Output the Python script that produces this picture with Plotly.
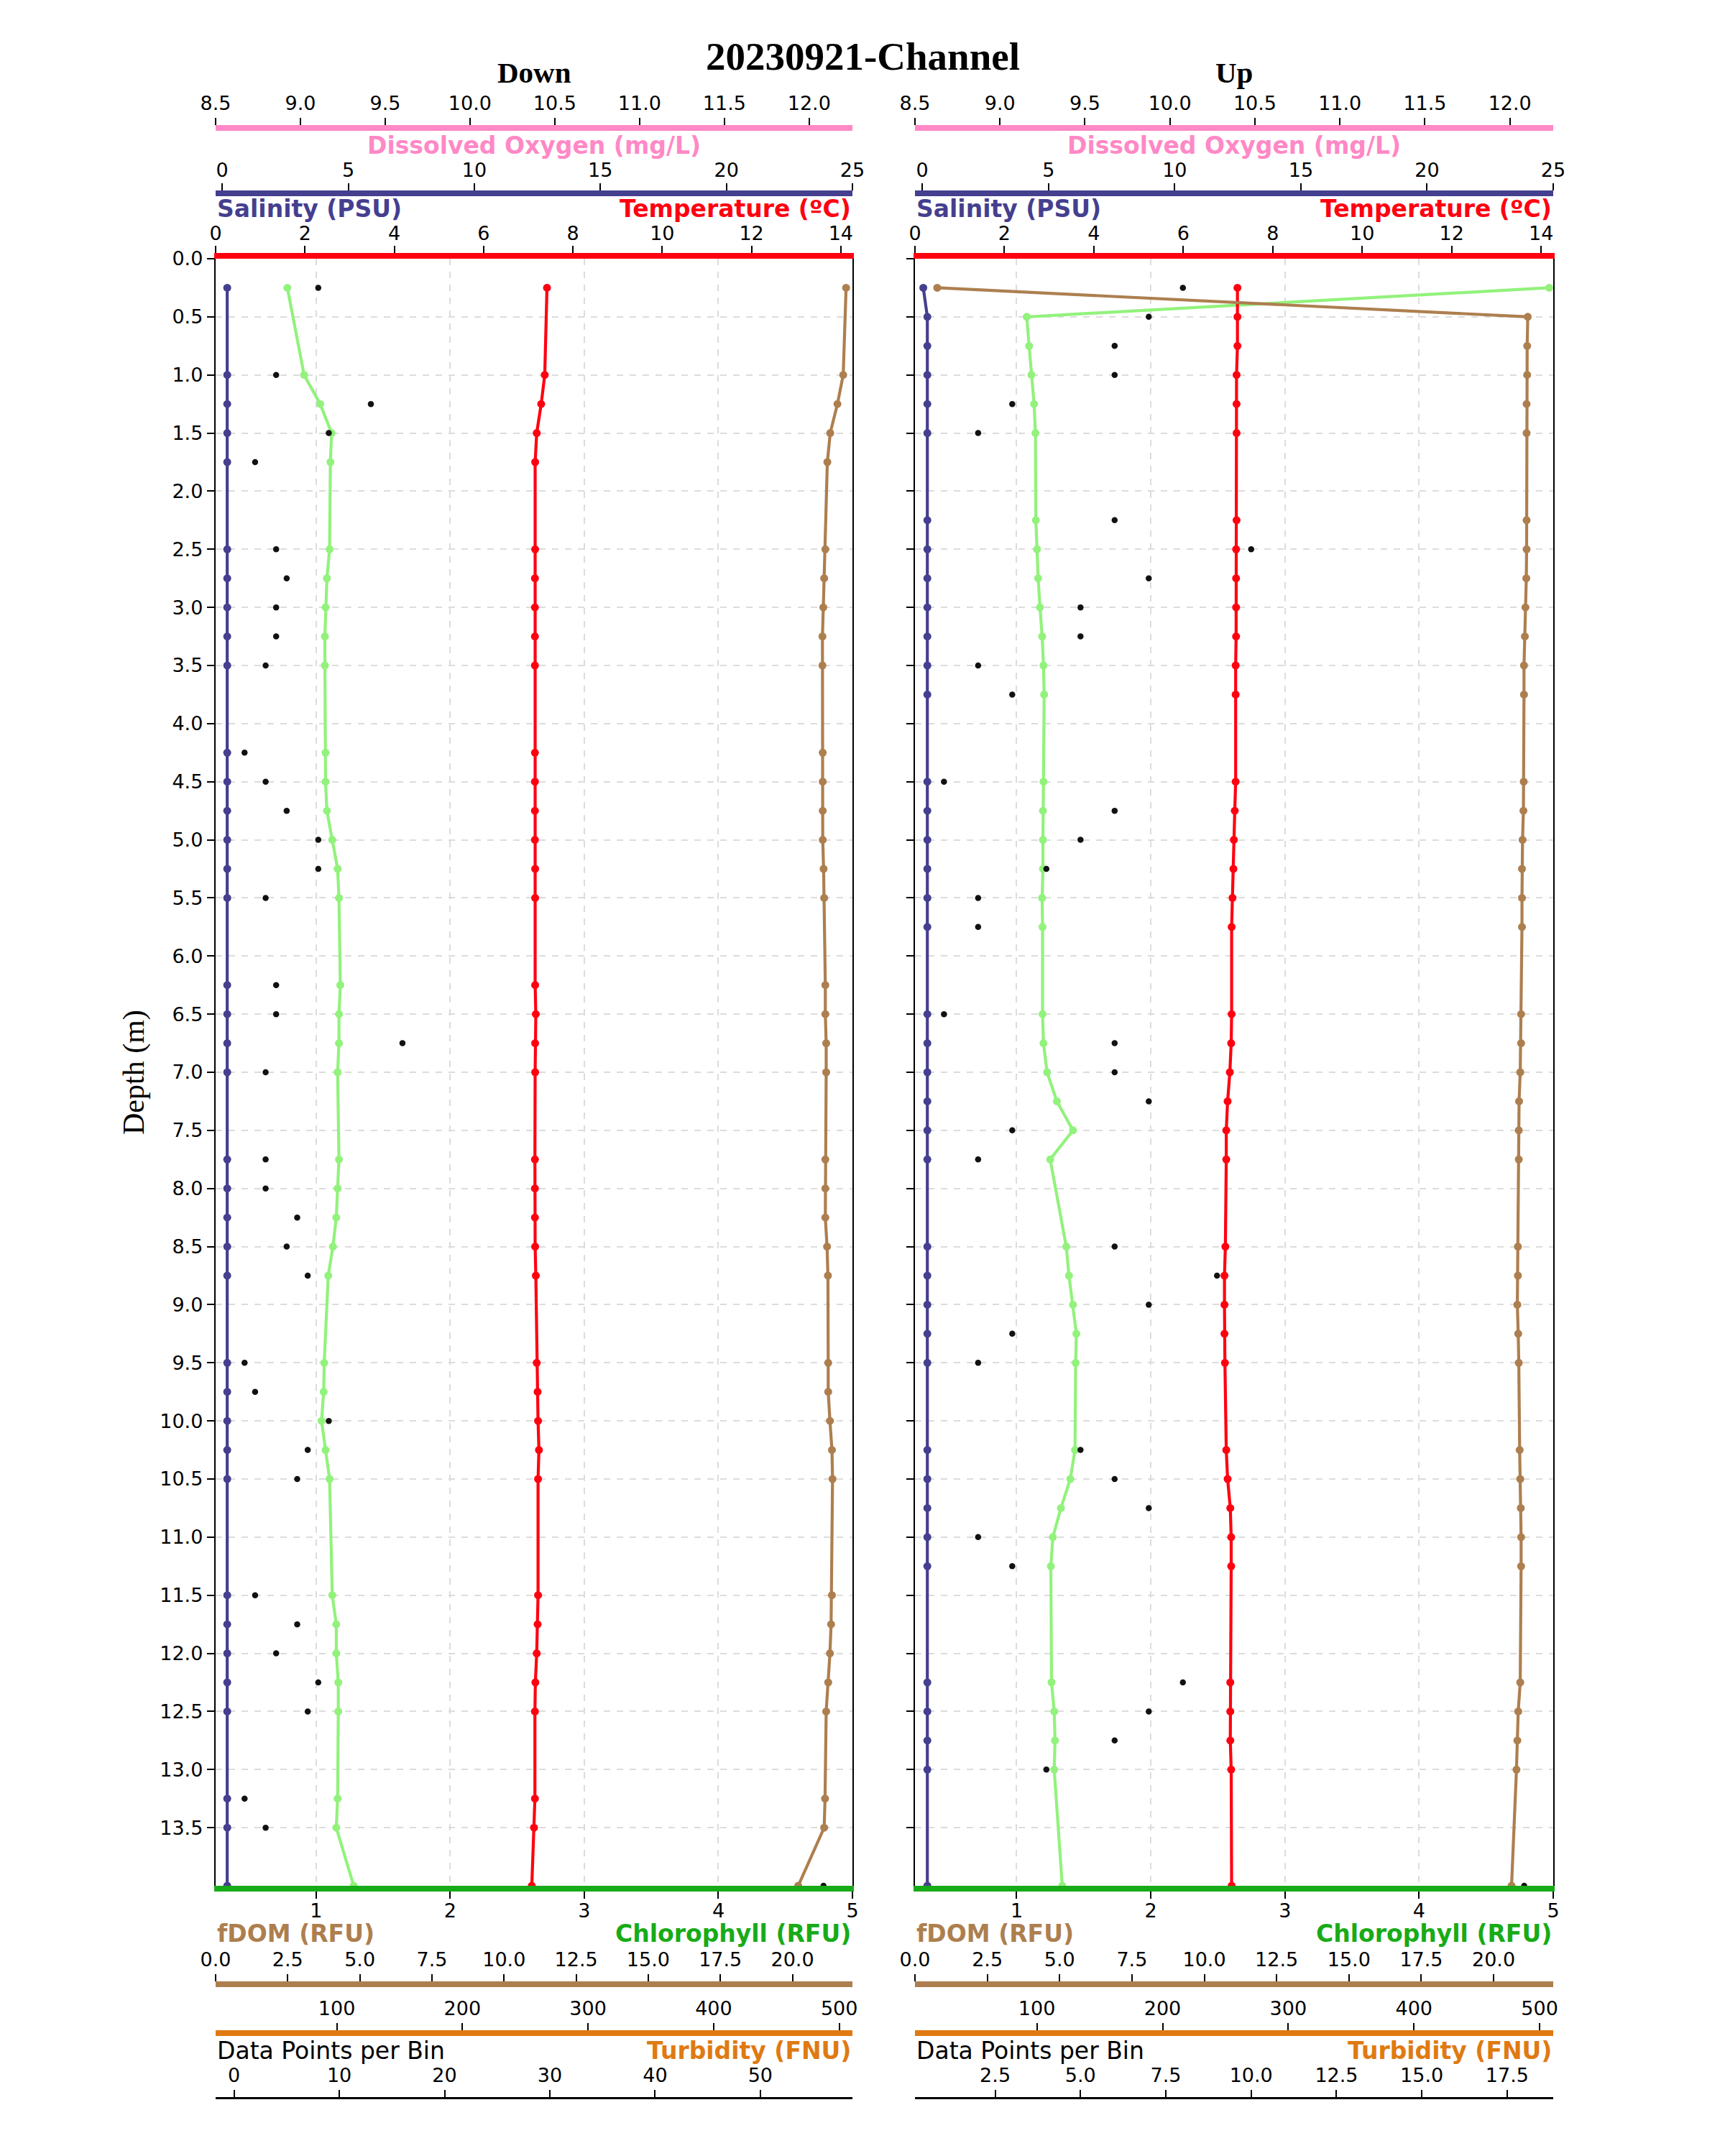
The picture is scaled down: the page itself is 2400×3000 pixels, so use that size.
import plotly.graph_objects as go

# ---------------- data ----------------
down_depth = [0.25, 1.0, 1.25, 1.5, 1.75, 2.5, 2.75, 3.0, 3.25, 3.5, 4.25, 4.5, 4.75, 5.0, 5.25, 5.5,
              6.25, 6.5, 6.75, 7.0, 7.75, 8.0, 8.25, 8.5, 8.75, 9.5, 9.75, 10.0, 10.25, 10.5, 11.5,
              11.75, 12.0, 12.25, 12.5, 13.25, 13.5, 14.0]
down_salinity = [0.2, 0.2, 0.2, 0.2, 0.2, 0.2, 0.2, 0.2, 0.2, 0.2, 0.2, 0.2, 0.2, 0.2, 0.2, 0.2, 0.2,
                 0.2, 0.2, 0.2, 0.2, 0.2, 0.2, 0.2, 0.2, 0.2, 0.2, 0.2, 0.2, 0.2, 0.2, 0.2, 0.2, 0.2,
                 0.2, 0.2, 0.2, 0.2]
down_chl = [0.785, 0.91, 1.03, 1.115, 1.106, 1.10, 1.08, 1.07, 1.065, 1.065, 1.07, 1.07, 1.08, 1.12,
            1.16, 1.17, 1.18, 1.17, 1.17, 1.16, 1.17, 1.16, 1.15, 1.125, 1.09, 1.06, 1.056, 1.04,
            1.07, 1.10, 1.12, 1.15, 1.15, 1.165, 1.165, 1.16, 1.15, 1.28]
down_temp = [7.42, 7.37, 7.29, 7.19, 7.155, 7.155, 7.15, 7.15, 7.15, 7.15, 7.15, 7.15, 7.15, 7.15,
             7.155, 7.155, 7.155, 7.17, 7.155, 7.155, 7.15, 7.15, 7.15, 7.155, 7.17, 7.19, 7.21,
             7.22, 7.24, 7.22, 7.22, 7.21, 7.19, 7.16, 7.15, 7.15, 7.13, 7.08]
down_fdom = [21.86, 21.76, 21.56, 21.31, 21.21, 21.14, 21.10, 21.07, 21.04, 21.04, 21.05, 21.05,
             21.05, 21.05, 21.08, 21.10, 21.14, 21.14, 21.17, 21.17, 21.14, 21.14, 21.14, 21.20,
             21.23, 21.24, 21.24, 21.30, 21.37, 21.39, 21.37, 21.34, 21.30, 21.24, 21.17, 21.13,
             21.10, 20.2]
down_count = [8, 4, 13, 9, 2, 4, 5, 4, 4, 3, 1, 3, 5, 8, 8, 3, 4, 4, 16, 3, 3, 3, 6, 5, 7, 1, 2, 9,
              7, 6, 2, 6, 4, 8, 7, 1, 3, 56]
down_do = []
down_turbidity = []

up_depth = [0.25, 0.5, 0.75, 1.0, 1.25, 1.5, 2.25, 2.5, 2.75, 3.0, 3.25, 3.5, 3.75, 4.5, 4.75, 5.0,
            5.25, 5.5, 5.75, 6.5, 6.75, 7.0, 7.25, 7.5, 7.75, 8.5, 8.75, 9.0, 9.25, 9.5, 10.25,
            10.5, 10.75, 11.0, 11.25, 12.25, 12.5, 12.75, 13.0, 14.0]
up_salinity = [0.04, 0.2, 0.2, 0.2, 0.2, 0.2, 0.2, 0.2, 0.2, 0.2, 0.2, 0.2, 0.2, 0.2, 0.2, 0.2, 0.2,
               0.2, 0.2, 0.2, 0.2, 0.2, 0.2, 0.2, 0.2, 0.2, 0.2, 0.2, 0.2, 0.2, 0.2, 0.2, 0.2, 0.2,
               0.2, 0.2, 0.2, 0.2, 0.2, 0.2]
up_chl = [4.97, 1.075, 1.093, 1.11, 1.13, 1.14, 1.143, 1.152, 1.16, 1.174, 1.19, 1.20, 1.205, 1.20,
          1.196, 1.196, 1.196, 1.19, 1.193, 1.193, 1.20, 1.227, 1.30, 1.42, 1.25, 1.37, 1.39, 1.42,
          1.445, 1.44, 1.435, 1.40, 1.33, 1.27, 1.255, 1.26, 1.28, 1.286, 1.28, 1.34]
up_temp = [7.21, 7.21, 7.21, 7.19, 7.19, 7.19, 7.19, 7.18, 7.18, 7.18, 7.18, 7.17, 7.17, 7.17, 7.15,
           7.13, 7.12, 7.10, 7.08, 7.08, 7.07, 7.04, 6.99, 6.96, 6.96, 6.94, 6.92, 6.92, 6.92, 6.93,
           6.96, 6.99, 7.05, 7.07, 7.07, 7.05, 7.05, 7.05, 7.07, 7.08]
up_fdom = [0.77, 21.18, 21.16, 21.16, 21.14, 21.14, 21.14, 21.14, 21.13, 21.10, 21.08, 21.05, 21.05,
           21.04, 21.03, 21.00, 20.98, 20.98, 20.98, 20.95, 20.95, 20.92, 20.88, 20.87, 20.87,
           20.84, 20.84, 20.82, 20.85, 20.87, 20.90, 20.92, 20.94, 20.95, 20.95, 20.92, 20.85,
           20.82, 20.79, 20.62]
up_count = [8, 7, 6, 6, 3, 2, 6, 10, 7, 5, 5, 2, 3, 1, 6, 5, 4, 2, 2, 1, 6, 6, 7, 3, 2, 6, 9, 7, 3,
            2, 5, 6, 7, 2, 3, 8, 7, 6, 4, 18]
up_do = []
up_turbidity = []

depth_ticks = [0.0, 0.5, 1.0, 1.5, 2.0, 2.5, 3.0, 3.5, 4.0, 4.5, 5.0, 5.5, 6.0, 6.5, 7.0, 7.5, 8.0,
               8.5, 9.0, 9.5, 10.0, 10.5, 11.0, 11.5, 12.0, 12.5, 13.0, 13.5]
do_ticks = [8.5, 9.0, 9.5, 10.0, 10.5, 11.0, 11.5, 12.0]
sal_ticks = [0, 5, 10, 15, 20, 25]
temp_ticks = [0, 2, 4, 6, 8, 10, 12, 14]
chl_ticks = [1, 2, 3, 4, 5]
fdom_ticks = [0.0, 2.5, 5.0, 7.5, 10.0, 12.5, 15.0, 17.5, 20.0]
turb_ticks = [100, 200, 300, 400, 500]
down_count_ticks = [0, 10, 20, 30, 40, 50]
up_count_ticks = [2.5, 5.0, 7.5, 10.0, 12.5, 15.0, 17.5]

# ---------------- style ----------------
W, H = 2400, 3000
C_DO = "#ff88c6"
C_SAL = "#453f8f"
C_TEMP = "#ff0010"
C_CHL_AX = "#17ab17"
C_CHL = "#92f27c"
C_FDOM = "#ad7f4f"
C_TURB = "#df7a12"
SANS = "DejaVu Sans"
SERIF = "Liberation Serif"


def py(v):
    return 1 - v / H


def pxx(v):
    return v / W


PLOT_TOP, PLOT_BOT = 360, 2624
YDOM = [py(PLOT_BOT), py(PLOT_TOP)]
panels = [
    dict(name="Down", x0=300, x1=1186, depth=down_depth, sal=down_salinity, chl=down_chl,
         temp=down_temp, fdom=down_fdom, count=down_count, do=down_do, turb=down_turbidity,
         chl_rng=[0.25, 5.0], sal_rng=[-0.26, 25.0], temp_rng=[0, 14.26], do_rng=[8.5, 12.255],
         fdom_rng=[0, 22.08], turb_rng=[3.5, 510.5], cnt_rng=[-1.75, 58.75],
         cnt_ticks=down_count_ticks),
    dict(name="Up", x0=1273, x1=2161, depth=up_depth, sal=up_salinity, chl=up_chl,
         temp=up_temp, fdom=up_fdom, count=up_count, do=up_do, turb=up_turbidity,
         chl_rng=[0.242, 5.0], sal_rng=[-0.29, 25.0], temp_rng=[0, 14.27], do_rng=[8.5, 12.255],
         fdom_rng=[0, 22.06], turb_rng=[3.0, 510.8], cnt_rng=[0.15, 18.85],
         cnt_ticks=up_count_ticks),
]

tickfont = dict(family=SANS, size=27, color="black")


def fmt(v, dec):
    return f"{v:.{dec}f}"


def xaxis(domain, rng, ticks, dec, color, lw, side, anchor, position=None, overlaying=None,
          grid=False, standoff=None):
    d = dict(domain=domain, range=rng, tickmode="array", tickvals=ticks,
             ticktext=[fmt(t, dec) for t in ticks], showline=True, linecolor=color,
             linewidth=lw, ticks="outside", ticklen=10, tickwidth=2.2, tickcolor="black",
             side=side, showgrid=grid, zeroline=False, tickfont=tickfont, automargin=False,
             fixedrange=True, anchor=anchor)
    if grid:
        d.update(gridcolor="#dcdcdc", griddash="dash", gridwidth=1.6)
    if position is not None:
        d["position"] = position
    if overlaying:
        d["overlaying"] = overlaying
    if standoff is not None:
        d["ticklabelstandoff"] = standoff
    return d


fig = go.Figure()
layout = dict(width=W, height=H, margin=dict(l=0, r=0, t=0, b=0), plot_bgcolor="white",
              paper_bgcolor="white", showlegend=False)
annotations = []

for i, p in enumerate(panels):
    base = 1 + i * 7
    ids = {k: base + j for j, k in enumerate(["chl", "temp", "sal", "do", "fdom", "turb", "cnt"])}
    yid = "y" if i == 0 else "y2"
    ykey = "yaxis" if i == 0 else "yaxis2"
    prim = "x" if ids["chl"] == 1 else f"x{ids['chl']}"

    def xname(k):
        n = ids[k]
        return "x" if n == 1 else f"x{n}"

    def xkey(k):
        n = ids[k]
        return "xaxis" if n == 1 else f"xaxis{n}"

    dom = [pxx(p["x0"]), pxx(p["x1"])]
    layout[xkey("chl")] = xaxis(dom, p["chl_rng"], chl_ticks, 0, C_CHL_AX, 8, "bottom", yid,
                               grid=True, standoff=-6)
    layout[xkey("temp")] = xaxis(dom, p["temp_rng"], temp_ticks, 0, C_TEMP, 8, "top", yid,
                                overlaying=prim, standoff=-3)
    layout[xkey("sal")] = xaxis(dom, p["sal_rng"], sal_ticks, 0, C_SAL, 8, "top", "free",
                               position=py(269), overlaying=prim, standoff=-2)
    layout[xkey("do")] = xaxis(dom, p["do_rng"], do_ticks, 1, C_DO, 8, "top", "free",
                              position=py(178), overlaying=prim)
    layout[xkey("fdom")] = xaxis(dom, p["fdom_rng"], fdom_ticks, 1, C_FDOM, 8, "top", "free",
                                position=py(2761), overlaying=prim)
    layout[xkey("turb")] = xaxis(dom, p["turb_rng"], turb_ticks, 0, C_TURB, 8, "top", "free",
                                position=py(2829), overlaying=prim)
    cdec = 0 if i == 0 else 1
    layout[xkey("cnt")] = xaxis(dom, p["cnt_rng"], p["cnt_ticks"], cdec, "black", 2.6, "top",
                               "free", position=py(2919), overlaying=prim)

    layout[ykey] = dict(domain=YDOM, range=[14, 0], tickmode="array", tickvals=depth_ticks,
                        ticktext=[fmt(t, 1) for t in depth_ticks], showticklabels=(i == 0),
                        showline=True, linecolor="black", linewidth=2.4, mirror=True,
                        ticks="outside", ticklen=10, tickwidth=2.2, tickcolor="black",
                        showgrid=True, gridcolor="#dcdcdc", griddash="dash", gridwidth=1.6,
                        zeroline=False, tickfont=tickfont, automargin=False, fixedrange=True,
                        anchor=prim)

    line_kw = dict(mode="lines+markers", cliponaxis=True, hoverinfo="skip")
    fig.add_trace(go.Scatter(x=p["do"], y=[], xaxis=xname("do"), yaxis=yid,
                             line=dict(color=C_DO, width=4), **line_kw))
    fig.add_trace(go.Scatter(x=p["turb"], y=[], xaxis=xname("turb"), yaxis=yid,
                             line=dict(color=C_TURB, width=4), **line_kw))
    fig.add_trace(go.Scatter(x=p["fdom"], y=p["depth"], xaxis=xname("fdom"), yaxis=yid,
                             line=dict(color=C_FDOM, width=4.2),
                             marker=dict(color=C_FDOM, size=11), **line_kw))
    fig.add_trace(go.Scatter(x=p["chl"], y=p["depth"], xaxis=xname("chl"), yaxis=yid,
                             line=dict(color=C_CHL, width=4.2),
                             marker=dict(color=C_CHL, size=11), **line_kw))
    fig.add_trace(go.Scatter(x=p["temp"], y=p["depth"], xaxis=xname("temp"), yaxis=yid,
                             line=dict(color=C_TEMP, width=4.2),
                             marker=dict(color=C_TEMP, size=11), **line_kw))
    fig.add_trace(go.Scatter(x=p["sal"], y=p["depth"], xaxis=xname("sal"), yaxis=yid,
                             line=dict(color=C_SAL, width=4.2),
                             marker=dict(color=C_SAL, size=11), **line_kw))
    fig.add_trace(go.Scatter(x=p["count"], y=p["depth"], xaxis=xname("cnt"), yaxis=yid,
                             mode="markers", cliponaxis=True, hoverinfo="skip",
                             marker=dict(color="#111111", size=8.5)))

    cx = pxx((p["x0"] + p["x1"]) / 2)
    lx, rx = pxx(p["x0"]), pxx(p["x1"])
    bold = lambda c, s=33: dict(family=SANS, size=s, color=c, weight="bold")
    annotations += [
        dict(text=p["name"], x=cx, y=py(101), xanchor="center", yanchor="middle",
             font=dict(family=SERIF, size=41, color="black", weight="bold")),
        dict(text="Dissolved Oxygen (mg/L)", x=cx, y=py(202), xanchor="center",
             yanchor="middle", font=bold(C_DO)),
        dict(text="Salinity (PSU)", x=lx, y=py(291), xanchor="left", yanchor="middle",
             font=bold(C_SAL)),
        dict(text="Temperature (ºC)", x=rx, y=py(291), xanchor="right", yanchor="middle",
             font=bold(C_TEMP)),
        dict(text="fDOM (RFU)", x=lx, y=py(2690), xanchor="left", yanchor="middle",
             font=bold(C_FDOM)),
        dict(text="Chlorophyll (RFU)", x=rx, y=py(2690), xanchor="right", yanchor="middle",
             font=bold(C_CHL_AX)),
        dict(text="Data Points per Bin", x=lx, y=py(2853), xanchor="left", yanchor="middle",
             font=dict(family=SANS, size=33, color="black")),
        dict(text="Turbidity (FNU)", x=rx, y=py(2853), xanchor="right", yanchor="middle",
             font=bold(C_TURB)),
    ]

annotations += [
    dict(text="20230921-Channel", x=0.5, y=py(78), xanchor="center", yanchor="middle",
         font=dict(family=SERIF, size=55, color="black", weight="bold")),
    dict(text="Depth (m)", x=pxx(186), y=py(1492), xanchor="center", yanchor="middle",
         textangle=-90, font=dict(family=SERIF, size=42, color="black")),
]
for a in annotations:
    a.update(xref="paper", yref="paper", showarrow=False)
layout["annotations"] = annotations
fig.update_layout(**layout)
fig.write_html("out.html")
